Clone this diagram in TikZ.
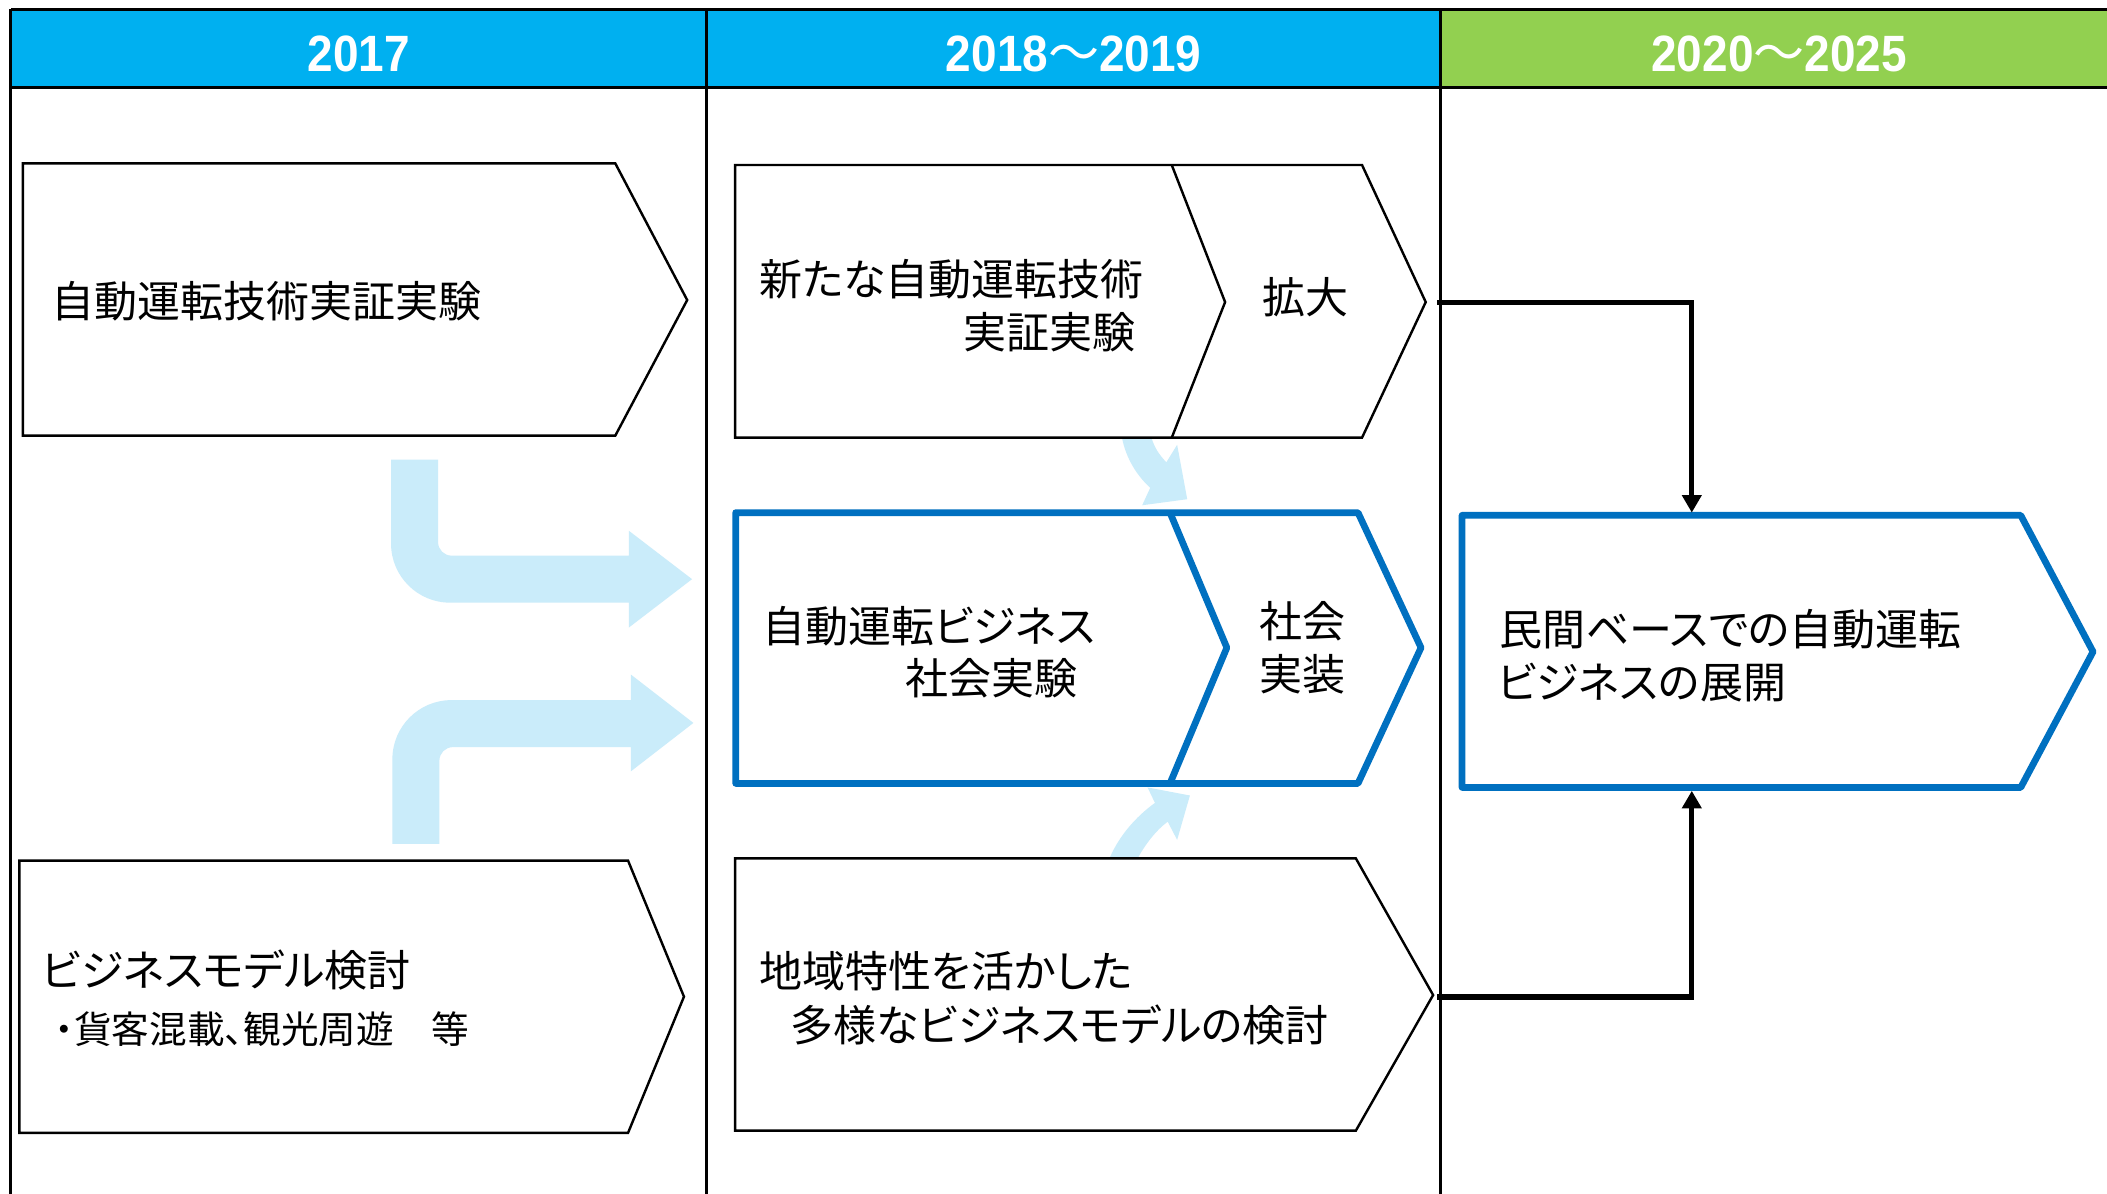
\documentclass[tikz,border=0pt]{standalone}
\usepackage{fontspec}
\newfontfamily\jp[RawFeature=+palt]{Noto Sans CJK JP}
\newfontfamily\jpw{Noto Sans CJK JP}
\newfontfamily\hdr[FakeStretch=0.9]{Liberation Sans Bold}
\usetikzlibrary{arrows.meta}
\definecolor{hblue}{HTML}{00B0F0}
\definecolor{hgreen}{HTML}{92D050}
\definecolor{bblue}{HTML}{0070C0}
\definecolor{lblue}{RGB}{202,236,250}
\begin{document}
\begin{tikzpicture}[x=1pt,y=-1pt,
  hdrtext/.style={font=\hdr\fontsize{38}{40}\selectfont, text=white, inner sep=0pt, anchor=base},
  jptext/.style={font=\jp\fontsize{32}{38}\selectfont, inner sep=0pt, anchor=base west},
  jpsmall/.style={font=\jp\fontsize{28}{32}\selectfont, inner sep=0pt, anchor=base west},
  blackbox/.style={draw=black, fill=white, line width=1.8pt, line join=miter},
  bluebox/.style={draw=bblue, fill=white, line width=5pt, line join=round},
  bluediv/.style={draw=bblue, line width=5pt, line join=round},
  blackdiv/.style={draw=black, line width=1.8pt},
  flow/.style={fill=lblue},
  conn/.style={draw=black, line width=4pt, -{Triangle[length=13pt,width=14pt]}},
  gridline/.style={draw=black, line width=2pt}
]
\useasboundingbox (0,0) rectangle (1568,888);
\fill[white] (0,0) rectangle (1568,888);

% header
\fill[hblue] (8,7) rectangle (1072,65);
\fill[hgreen] (1072,7) rectangle (1580,65);
\draw[gridline, line width=2.5pt] (8,7) -- (1580,7);
\draw[gridline, line width=2.5pt] (8,65) -- (1580,65);
\draw[gridline] (8,7) -- (8,892);
\draw[gridline] (526,7) -- (526,892);
\draw[gridline] (1072,7) -- (1072,892);
\node[hdrtext] (h1) at (267,53.5) {2017};
\node[hdrtext] (h2) at (799,53.5) {2018{\jpw 〜}2019};
\node[hdrtext] (h3) at (1324,53.5) {2020{\jpw 〜}2025};

% light blue flow arrows
\path[flow] (291,342) -- (291,404.5) .. controls (291,428.8) and (310.7,448.5) .. (335,448.5)
  -- (468,448.5) -- (468,467) -- (515,431) -- (468,395) -- (468,413.5) -- (336,413.5)
  .. controls (330.5,413.5) and (326,409) .. (326,403.5) -- (326,342) -- cycle;
\path[flow] (292,628) -- (292,565) .. controls (292,540.7) and (311.7,521) .. (336,521)
  -- (469.5,521) -- (469.5,502) -- (516,538) -- (469.5,574) -- (469.5,556) -- (337,556)
  .. controls (331.5,556) and (327,560.5) .. (327,566) -- (327,628) -- cycle;
\path[flow] (835,315) -- (835,326) .. controls (838,341) and (846,354) .. (856,363)
  -- (850,376) -- (883.5,371.5) -- (876,331) -- (868,344)
  .. controls (863,339) and (859,333) .. (857,326) -- (857,315) -- cycle;
\path[flow] (826,648) -- (826,638) .. controls (833,622) and (845,608) .. (859.5,597.5)
  -- (854,586) -- (885.5,592) -- (876,625) -- (869,611.5)
  .. controls (860,618) and (852,629) .. (847,638) -- (847,648) -- cycle;

% boxes
\path[blackbox] (17,121.6) -- (457.9,121.6) -- (511.4,223.3) -- (457.9,324.2) -- (17,324.2) -- cycle;
\path[blackbox] (14.4,640.5) -- (467.4,640.5) -- (509,741.7) -- (467.4,843) -- (14.4,843) -- cycle;
\path[blackbox] (547,122.8) -- (1013.6,122.8) -- (1061,224.8) -- (1013.6,325.7) -- (547,325.7) -- cycle;
\draw[blackdiv] (872,122.8) -- (911.7,224.8) -- (872,325.7);
\path[blackbox] (547,638.8) -- (1009,638.8) -- (1066.5,740.5) -- (1009,841.4) -- (547,841.4) -- cycle;
\path[bluebox] (547.5,381.5) -- (1010.6,381.5) -- (1057.5,482) -- (1010.6,583) -- (547.5,583) -- cycle;
\draw[bluediv] (870.7,381.5) -- (913,482) -- (870.7,583);
\path[bluebox] (1088,383.5) -- (1503.8,383.5) -- (1557.6,485) -- (1503.8,586) -- (1088,586) -- cycle;

% connector end points
\coordinate (btip) at (1069.5,225);
\coordinate (dtip) at (1069.5,742);
\coordinate (ftop) at (1259,381.5);
\coordinate (fbot) at (1259,588.5);
\draw[conn] (btip) -| (ftop);
\draw[conn] (dtip) -| (fbot);

% texts
\node[jptext] (ta) at (38,236) {自動運転技術実証実験};
\node[jptext] (tb1) at (565,220) {新たな自動運転技術};
\node[jptext] (tb2) at (717,259) {実証実験};
\node[jptext] (tb3) at (939,233.5) {拡大};
\node[jptext] (tc1) at (567,478) {自動運転ビジネス};
\node[jptext] (tc2) at (674,517) {社会実験};
\node[jptext] (tc3) at (937,474.5) {社会};
\node[jptext] (tc4) at (937,514) {実装};
\node[jptext] (td1) at (565,735) {地域特性を活かした};
\node[jptext] (td2) at (588,775) {多様なビジネスモデルの検討};
\node[jptext] (te1) at (31,734) {ビジネスモデル検討};
\node[jpsmall] (te2) at (41,776.5) {・貨客混載、観光周遊　等};
\node[jptext] (tf1) at (1116,480) {民間ベースでの自動運転};
\node[jptext] (tf2) at (1114,520) {ビジネスの展開};
\end{tikzpicture}
\end{document}
